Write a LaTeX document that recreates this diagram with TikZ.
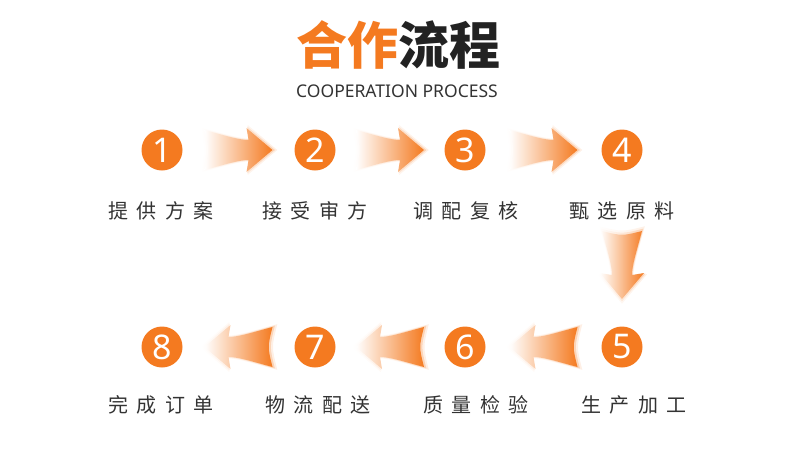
\documentclass[tikz,border=0pt]{standalone}
\usepackage{fontspec}
\newfontfamily\cjk{Noto Sans CJK SC}
\newfontfamily\latin{Noto Sans}
\usetikzlibrary{calc}
\definecolor{flowor}{HTML}{F47A20}
\definecolor{titledark}{HTML}{222222}
\definecolor{labelgray}{HTML}{333333}
\newcommand\gap{\hspace{8.5pt}}
\newcommand\arrowpath{(-34,-20) .. controls (-15,-15) and (0,-10) .. (10,-10) -- (8,-22) -- (34,0)
    -- (8,22) -- (10,10) .. controls (0,10) and (-15,15) .. (-34,20)
    .. controls (-29,0) .. (-34,-20) -- cycle}
\begin{document}
\begin{tikzpicture}[
    x=1pt, y=-1pt,
    step circle/.style={circle, fill=flowor, minimum size=41pt, inner sep=0pt,
        text=white, font=\latin\fontsize{34}{34}\selectfont},
    step label/.style={text=labelgray, font=\cjk\fontsize{20}{20}\selectfont},
    arrow fill/.style={left color=white, right color=flowor, middle color=flowor!50},
    flow arrow/.pic={
        % soft halo
        \foreach \s/\o in {1.14/0.12, 1.07/0.25}
            \shade[arrow fill, scale=\s, opacity=\o] \arrowpath;
        \shade[arrow fill] \arrowpath;
    },
    ]
\useasboundingbox (0,0) rectangle (790,451);
% title
\node (title) at (398,45) {\cjk\bfseries\fontsize{51}{51}\selectfont
    \textcolor{flowor}{合作}\textcolor{titledark}{流程}};
\node[text=labelgray, font=\latin\fontsize{17.5}{18}\selectfont] (subtitle) at (397,91) {COOPERATION PROCESS};
% top row
\node[step circle] (c1) at (162,150) {1};
\node[step circle] (c2) at (315,150) {2};
\node[step circle] (c3) at (465,150) {3};
\node[step circle] (c4) at (622,150) {4};
\node[step label] (l1) at (161,211) {提\gap 供\gap 方\gap 案};
\node[step label] (l2) at (315,211) {接\gap 受\gap 审\gap 方};
\node[step label] (l3) at (466,211) {调\gap 配\gap 复\gap 核};
\node[step label] (l4) at (622,211) {甄\gap 选\gap 原\gap 料};
% bottom row
\node[step circle] (c5) at (622,347) {5};
\node[step circle] (c6) at (465,347) {6};
\node[step circle] (c7) at (315,347) {7};
\node[step circle] (c8) at (162,347) {8};
\node[step label] (l5) at (634,405) {生\gap 产\gap 加\gap 工};
\node[step label] (l6) at (476,405) {质\gap 量\gap 检\gap 验};
\node[step label] (l7) at (318,405) {物\gap 流\gap 配\gap 送};
\node[step label] (l8) at (161,405) {完\gap 成\gap 订\gap 单};
% arrows
\pic at ($(c1)!0.5!(c2)$) {flow arrow};
\pic at ($(c2)!0.5!(c3)$) {flow arrow};
\pic at ($(c3)!0.5!(c4)$) {flow arrow};
\pic[rotate=-90] at (622,265) {flow arrow};
\pic[rotate=180] at ($(c5)!0.5!(c6)$) {flow arrow};
\pic[rotate=180] at ($(c6)!0.5!(c7)$) {flow arrow};
\pic[rotate=180] at ($(c7)!0.5!(c8)$) {flow arrow};
\end{tikzpicture}
\end{document}
